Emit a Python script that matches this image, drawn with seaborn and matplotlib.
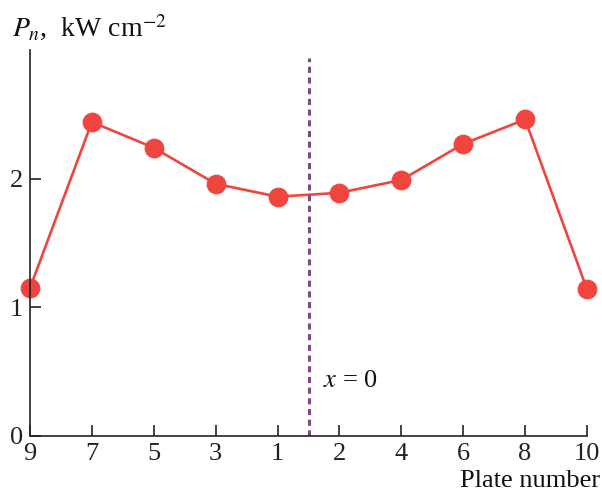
import matplotlib
matplotlib.use("Agg")
import matplotlib.pyplot as plt
import seaborn as sns
import pandas as pd

plates = ["9", "7", "5", "3", "1", "2", "4", "6", "8", "10"]
power = [1.15, 2.44, 2.24, 1.96, 1.86, 1.89, 1.99, 2.27, 2.46, 1.14]
y_ticks = [0, 1, 2]

sns.set_style("ticks")
plt.rcParams["font.family"] = ["Liberation Serif", "DejaVu Serif"]
plt.rcParams["mathtext.fontset"] = "stix"

df = pd.DataFrame({"pos": range(len(plates)), "P": power})

fig = plt.figure(figsize=(6.02, 4.93), dpi=100)
ax = fig.add_axes([30/602, 1-436/493, 557/602, 386/493])

red = "#f0443e"
sns.lineplot(data=df, x="pos", y="P", ax=ax, color=red, lw=1.9,
             marker="o", markersize=13.5, markeredgecolor=red, clip_on=False)
ax.axvline(4.5, ymin=0, ymax=0.98, color="#7b4a80", lw=2.2, ls=(0, (2.0, 1.5)))

ax.set_xlim(0, len(plates) - 1)
ax.set_ylim(0, 3.0)
ax.set_xticks(range(len(plates)))
ax.set_xticklabels(plates)
ax.set_yticks(y_ticks)
ax.set_xlabel("")
ax.set_ylabel("")
ax.tick_params(direction="in", length=8, width=1.2, labelsize=19, colors="#222222")
ax.tick_params(axis="x", pad=5)
ax.tick_params(axis="y", pad=5)
for s in ["top", "right"]:
    ax.spines[s].set_visible(False)
for s in ["left", "bottom"]:
    ax.spines[s].set_linewidth(1.2)
    ax.spines[s].set_color("#222222")

fig.text(12/602, 1-28/493, r"$P_n$,  kW cm$^{-2}$", fontsize=20, va="center", ha="left", color="#111111")
fig.text(600/602, 1-481/493, "Plate number", fontsize=19, va="center", ha="right", color="#111111")
ax.text(4.73, 0.43, r"$x$ = 0", fontsize=19, va="center", ha="left", color="#111111")

fig.savefig("out.png", dpi=100)
